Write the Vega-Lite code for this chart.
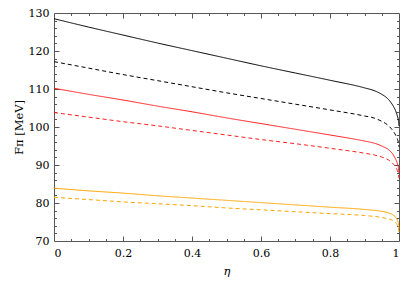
{
  "$schema": "https://vega.github.io/schema/vega-lite/v6.json",
  "width": 345,
  "height": 228,
  "autosize": "none",
  "padding": {"left": 54, "top": 13, "right": 8, "bottom": 43},
  "background": "white",
  "config": {
    "view": {"stroke": "#555", "strokeWidth": 1},
    "font": "DejaVu Serif",
    "axis": {"grid": false, "domain": false, "labelFont": "DejaVu Serif", "titleFont": "DejaVu Serif", "labelFontSize": 11, "titleFontSize": 11.5, "labelColor": "#000", "titleColor": "#000", "tickColor": "#555", "titleFontWeight": "normal"}
  },
  "data": {"values": [
    {"eta": 0, "F": 128.5, "s": "a", "t": "solid"},
    {"eta": 0.1, "F": 126.3, "s": "a", "t": "solid"},
    {"eta": 0.2, "F": 124.2, "s": "a", "t": "solid"},
    {"eta": 0.3, "F": 122.1, "s": "a", "t": "solid"},
    {"eta": 0.4, "F": 120.1, "s": "a", "t": "solid"},
    {"eta": 0.5, "F": 118.1, "s": "a", "t": "solid"},
    {"eta": 0.6, "F": 116.1, "s": "a", "t": "solid"},
    {"eta": 0.7, "F": 114.2, "s": "a", "t": "solid"},
    {"eta": 0.8, "F": 112.3, "s": "a", "t": "solid"},
    {"eta": 0.9, "F": 110.3, "s": "a", "t": "solid"},
    {"eta": 0.93, "F": 109.5, "s": "a", "t": "solid"},
    {"eta": 0.95, "F": 108.6, "s": "a", "t": "solid"},
    {"eta": 0.97, "F": 107.2, "s": "a", "t": "solid"},
    {"eta": 0.98, "F": 106.0, "s": "a", "t": "solid"},
    {"eta": 0.99, "F": 104.3, "s": "a", "t": "solid"},
    {"eta": 0.995, "F": 103.0, "s": "a", "t": "solid"},
    {"eta": 0.998, "F": 101.9, "s": "a", "t": "solid"},
    {"eta": 1.0, "F": 100.3, "s": "a", "t": "solid"},

    {"eta": 0, "F": 117.2, "s": "b", "t": "dashed"},
    {"eta": 0.1, "F": 115.5, "s": "b", "t": "dashed"},
    {"eta": 0.2, "F": 113.8, "s": "b", "t": "dashed"},
    {"eta": 0.3, "F": 112.2, "s": "b", "t": "dashed"},
    {"eta": 0.4, "F": 110.6, "s": "b", "t": "dashed"},
    {"eta": 0.5, "F": 109.0, "s": "b", "t": "dashed"},
    {"eta": 0.6, "F": 107.5, "s": "b", "t": "dashed"},
    {"eta": 0.7, "F": 106.0, "s": "b", "t": "dashed"},
    {"eta": 0.8, "F": 104.5, "s": "b", "t": "dashed"},
    {"eta": 0.9, "F": 102.9, "s": "b", "t": "dashed"},
    {"eta": 0.93, "F": 102.3, "s": "b", "t": "dashed"},
    {"eta": 0.95, "F": 101.5, "s": "b", "t": "dashed"},
    {"eta": 0.97, "F": 100.3, "s": "b", "t": "dashed"},
    {"eta": 0.98, "F": 99.3, "s": "b", "t": "dashed"},
    {"eta": 0.99, "F": 97.9, "s": "b", "t": "dashed"},
    {"eta": 0.995, "F": 96.9, "s": "b", "t": "dashed"},
    {"eta": 0.998, "F": 96.0, "s": "b", "t": "dashed"},
    {"eta": 1.0, "F": 94.8, "s": "b", "t": "dashed"},

    {"eta": 0, "F": 110.2, "s": "c", "t": "solid"},
    {"eta": 0.1, "F": 108.6, "s": "c", "t": "solid"},
    {"eta": 0.2, "F": 107.1, "s": "c", "t": "solid"},
    {"eta": 0.3, "F": 105.5, "s": "c", "t": "solid"},
    {"eta": 0.4, "F": 104.0, "s": "c", "t": "solid"},
    {"eta": 0.5, "F": 102.4, "s": "c", "t": "solid"},
    {"eta": 0.6, "F": 100.9, "s": "c", "t": "solid"},
    {"eta": 0.7, "F": 99.4, "s": "c", "t": "solid"},
    {"eta": 0.8, "F": 97.9, "s": "c", "t": "solid"},
    {"eta": 0.9, "F": 96.3, "s": "c", "t": "solid"},
    {"eta": 0.93, "F": 95.7, "s": "c", "t": "solid"},
    {"eta": 0.95, "F": 95.0, "s": "c", "t": "solid"},
    {"eta": 0.97, "F": 94.0, "s": "c", "t": "solid"},
    {"eta": 0.98, "F": 93.1, "s": "c", "t": "solid"},
    {"eta": 0.99, "F": 91.6, "s": "c", "t": "solid"},
    {"eta": 0.995, "F": 90.5, "s": "c", "t": "solid"},
    {"eta": 0.998, "F": 89.4, "s": "c", "t": "solid"},
    {"eta": 1.0, "F": 87.8, "s": "c", "t": "solid"},

    {"eta": 0, "F": 103.8, "s": "d", "t": "dashed"},
    {"eta": 0.1, "F": 102.6, "s": "d", "t": "dashed"},
    {"eta": 0.2, "F": 101.4, "s": "d", "t": "dashed"},
    {"eta": 0.3, "F": 100.3, "s": "d", "t": "dashed"},
    {"eta": 0.4, "F": 99.1, "s": "d", "t": "dashed"},
    {"eta": 0.5, "F": 97.9, "s": "d", "t": "dashed"},
    {"eta": 0.6, "F": 96.7, "s": "d", "t": "dashed"},
    {"eta": 0.7, "F": 95.6, "s": "d", "t": "dashed"},
    {"eta": 0.8, "F": 94.4, "s": "d", "t": "dashed"},
    {"eta": 0.9, "F": 93.1, "s": "d", "t": "dashed"},
    {"eta": 0.93, "F": 92.6, "s": "d", "t": "dashed"},
    {"eta": 0.95, "F": 92.1, "s": "d", "t": "dashed"},
    {"eta": 0.97, "F": 91.3, "s": "d", "t": "dashed"},
    {"eta": 0.98, "F": 90.6, "s": "d", "t": "dashed"},
    {"eta": 0.99, "F": 89.5, "s": "d", "t": "dashed"},
    {"eta": 0.995, "F": 88.6, "s": "d", "t": "dashed"},
    {"eta": 0.998, "F": 87.7, "s": "d", "t": "dashed"},
    {"eta": 1.0, "F": 86.5, "s": "d", "t": "dashed"},

    {"eta": 0, "F": 83.9, "s": "e", "t": "solid"},
    {"eta": 0.1, "F": 83.2, "s": "e", "t": "solid"},
    {"eta": 0.2, "F": 82.6, "s": "e", "t": "solid"},
    {"eta": 0.3, "F": 81.9, "s": "e", "t": "solid"},
    {"eta": 0.4, "F": 81.3, "s": "e", "t": "solid"},
    {"eta": 0.5, "F": 80.7, "s": "e", "t": "solid"},
    {"eta": 0.6, "F": 80.1, "s": "e", "t": "solid"},
    {"eta": 0.7, "F": 79.5, "s": "e", "t": "solid"},
    {"eta": 0.8, "F": 78.9, "s": "e", "t": "solid"},
    {"eta": 0.9, "F": 78.3, "s": "e", "t": "solid"},
    {"eta": 0.95, "F": 77.8, "s": "e", "t": "solid"},
    {"eta": 0.97, "F": 77.4, "s": "e", "t": "solid"},
    {"eta": 0.98, "F": 77.0, "s": "e", "t": "solid"},
    {"eta": 0.99, "F": 76.3, "s": "e", "t": "solid"},
    {"eta": 0.995, "F": 75.5, "s": "e", "t": "solid"},
    {"eta": 0.998, "F": 74.6, "s": "e", "t": "solid"},
    {"eta": 1.0, "F": 73.3, "s": "e", "t": "solid"},

    {"eta": 0, "F": 81.5, "s": "f", "t": "dashed"},
    {"eta": 0.1, "F": 80.9, "s": "f", "t": "dashed"},
    {"eta": 0.2, "F": 80.3, "s": "f", "t": "dashed"},
    {"eta": 0.3, "F": 79.8, "s": "f", "t": "dashed"},
    {"eta": 0.4, "F": 79.3, "s": "f", "t": "dashed"},
    {"eta": 0.5, "F": 78.7, "s": "f", "t": "dashed"},
    {"eta": 0.6, "F": 78.2, "s": "f", "t": "dashed"},
    {"eta": 0.7, "F": 77.7, "s": "f", "t": "dashed"},
    {"eta": 0.8, "F": 77.2, "s": "f", "t": "dashed"},
    {"eta": 0.9, "F": 76.7, "s": "f", "t": "dashed"},
    {"eta": 0.95, "F": 76.2, "s": "f", "t": "dashed"},
    {"eta": 0.97, "F": 75.8, "s": "f", "t": "dashed"},
    {"eta": 0.98, "F": 75.5, "s": "f", "t": "dashed"},
    {"eta": 0.99, "F": 74.9, "s": "f", "t": "dashed"},
    {"eta": 0.995, "F": 74.2, "s": "f", "t": "dashed"},
    {"eta": 0.998, "F": 73.5, "s": "f", "t": "dashed"},
    {"eta": 1.0, "F": 72.3, "s": "f", "t": "dashed"}
  ]},
  "resolve": {"axis": {"x": "independent", "y": "independent"}},
  "layer": [
    {
      "mark": {"type": "line", "strokeWidth": 1, "interpolate": "monotone"},
      "encoding": {
        "x": {"field": "eta", "type": "quantitative", "scale": {"domain": [0, 1], "nice": false, "zero": false},
              "axis": {"orient": "bottom", "values": [0, 0.2, 0.4, 0.6, 0.8, 1], "format": "~g", "ticks": false, "labelPadding": 6, "labelFont": "DejaVu Serif", "titleFont": "DejaVu Serif", "title": "η", "titleFontStyle": "italic", "titlePadding": 7}},
        "y": {"field": "F", "type": "quantitative", "scale": {"domain": [70, 130], "nice": false, "zero": false},
              "axis": {"orient": "left", "values": [70, 80, 90, 100, 110, 120, 130], "ticks": false, "labelPadding": 5, "labelFont": "DejaVu Serif", "titleFont": "DejaVu Serif", "title": "Fπ [MeV]", "titlePadding": 4}},
        "color": {"field": "s", "type": "nominal", "legend": null,
                  "scale": {"domain": ["a", "b", "c", "d", "e", "f"], "range": ["#000000", "#000000", "#ff2020", "#ff2020", "#ffa500", "#ffa500"]}},
        "strokeDash": {"field": "t", "type": "nominal", "legend": null,
                       "scale": {"domain": ["solid", "dashed"], "range": [[1, 0], [4, 3]]}}
      }
    },
    {
      "mark": {"type": "point", "opacity": 0},
      "encoding": {
        "x": {"field": "eta", "type": "quantitative",
              "axis": {"orient": "bottom", "values": [0.05, 0.1, 0.15, 0.25, 0.3, 0.35, 0.45, 0.5, 0.55, 0.65, 0.7, 0.75, 0.85, 0.9, 0.95], "tickSize": -2.5, "labels": false, "title": null}},
        "y": {"field": "F", "type": "quantitative",
              "axis": {"orient": "left", "values": [72, 74, 76, 78, 82, 84, 86, 88, 92, 94, 96, 98, 102, 104, 106, 108, 112, 114, 116, 118, 122, 124, 126, 128], "tickSize": -2.5, "labels": false, "title": null}}
      }
    },
    {
      "mark": {"type": "point", "opacity": 0},
      "encoding": {
        "x": {"field": "eta", "type": "quantitative",
              "axis": {"orient": "bottom", "values": [0.2, 0.4, 0.6, 0.8], "tickSize": -5, "labels": false, "title": null}},
        "y": {"field": "F", "type": "quantitative",
              "axis": {"orient": "left", "values": [80, 90, 100, 110, 120], "tickSize": -5, "labels": false, "title": null}}
      }
    },
    {
      "mark": {"type": "point", "opacity": 0},
      "encoding": {
        "x": {"field": "eta", "type": "quantitative",
              "axis": {"orient": "top", "values": [0.05, 0.1, 0.15, 0.25, 0.3, 0.35, 0.45, 0.5, 0.55, 0.65, 0.7, 0.75, 0.85, 0.9, 0.95], "tickSize": -2.5, "labels": false, "title": null}},
        "y": {"field": "F", "type": "quantitative",
              "axis": {"orient": "right", "values": [72, 74, 76, 78, 82, 84, 86, 88, 92, 94, 96, 98, 102, 104, 106, 108, 112, 114, 116, 118, 122, 124, 126, 128], "tickSize": -2.5, "labels": false, "title": null}}
      }
    },
    {
      "mark": {"type": "point", "opacity": 0},
      "encoding": {
        "x": {"field": "eta", "type": "quantitative",
              "axis": {"orient": "top", "values": [0.2, 0.4, 0.6, 0.8], "tickSize": -5, "labels": false, "title": null}},
        "y": {"field": "F", "type": "quantitative",
              "axis": {"orient": "right", "values": [80, 90, 100, 110, 120], "tickSize": -5, "labels": false, "title": null}}
      }
    }
  ]
}
